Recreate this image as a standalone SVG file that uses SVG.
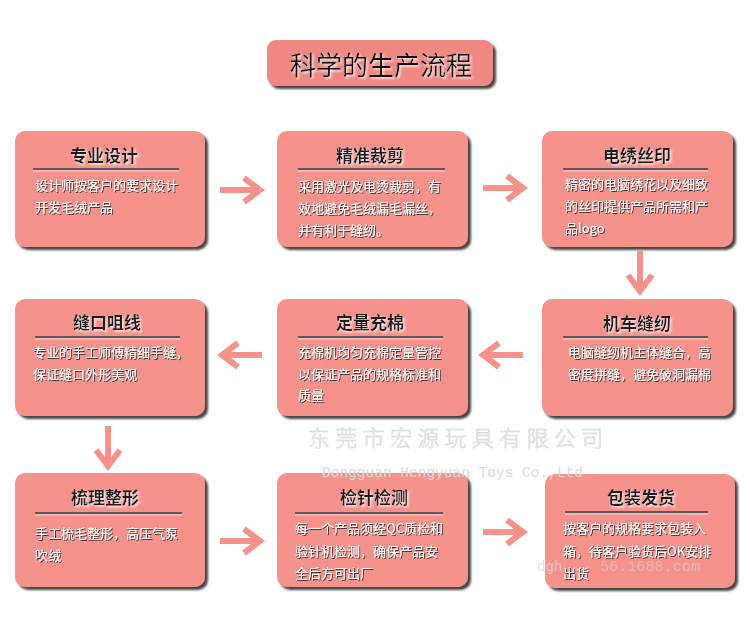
<svg xmlns="http://www.w3.org/2000/svg" width="750" height="628" viewBox="0 0 750 628">
<style>
.box{fill:#f4928b;}
.ttl{font-family:"Noto Sans CJK SC","Noto Sans",sans-serif;font-size:17px;font-weight:bold;fill:#1a1a1a;text-anchor:middle;filter:url(#glow);}
.body{font-family:"Noto Sans CJK SC","Noto Sans",sans-serif;font-size:13px;fill:#fff;filter:url(#dsh);}
.rule{stroke:#5a5a5a;stroke-width:2;}
.rule2{stroke:#fbd6d3;stroke-width:1;}
.arr{fill:none;stroke:#f4928b;stroke-width:6;}
.wm{font-family:"Noto Sans CJK SC",sans-serif;font-weight:300;fill:#f3f3f3;stroke:#d2d2d2;stroke-width:0.5;}
.wme{font-family:"Liberation Mono",monospace;fill:#dadada;}
</style>
<defs>
<filter id="bs" x="-10%" y="-10%" width="125%" height="130%">
<feDropShadow dx="3" dy="3" stdDeviation="1.3" flood-color="#333" flood-opacity="0.9"/>
</filter>
<filter id="glow" x="-10%" y="-20%" width="130%" height="150%">
<feDropShadow dx="1.5" dy="1.5" stdDeviation="0.8" flood-color="#fff" flood-opacity="0.9"/>
</filter>
<filter id="dsh" x="-10%" y="-20%" width="130%" height="150%">
<feDropShadow dx="1" dy="1" stdDeviation="0.6" flood-color="#333" flood-opacity="0.9"/>
</filter>
<path id="ar" d="M-21,0 H17 M3,-12 L19,0 L3,12"/>
</defs>
<rect width="750" height="628" fill="#fff"/>

<g id="title">
<rect x="267" y="40" width="226" height="46" rx="9" fill="#f08883" filter="url(#bs)"/>
<text x="381" y="75" font-family="'Noto Sans CJK SC',sans-serif" font-size="26" fill="#111" text-anchor="middle" filter="url(#glow)">科学的生产流程</text>
</g>

<g id="n1">
<rect class="box" x="15" y="131" width="190" height="116" rx="10" filter="url(#bs)"/>
<text class="ttl" x="104" y="162">专业设计</text>
<line class="rule" x1="33" y1="169" x2="179" y2="169"/><line class="rule2" x1="33" y1="171" x2="179" y2="171"/>
<text class="body" x="35" y="190">设计师按客户的要求设计</text>
<text class="body" x="35" y="212">开发毛绒产品</text>
</g>

<g id="n2">
<rect class="box" x="277" y="131" width="191" height="116" rx="10" filter="url(#bs)"/>
<text class="ttl" x="370" y="162">精准裁剪</text>
<line class="rule" x1="298" y1="169" x2="445" y2="169"/><line class="rule2" x1="298" y1="171" x2="445" y2="171"/>
<text class="body" x="298" y="191">采用激光及电烫裁剪，有</text>
<text class="body" x="298" y="213">效地避免毛绒漏毛漏丝，</text>
<text class="body" x="298" y="235">并有利于缝纫。</text>
</g>

<g id="n3">
<rect class="box" x="542" y="131" width="191" height="116" rx="10" filter="url(#bs)"/>
<text class="ttl" x="637" y="162">电绣丝印</text>
<line class="rule" x1="563" y1="169" x2="708" y2="169"/><line class="rule2" x1="563" y1="171" x2="708" y2="171"/>
<text class="body" x="565" y="189">精密的电脑绣花以及细致</text>
<text class="body" x="565" y="211">的丝印提供产品所需和产</text>
<text class="body" x="565" y="233">品logo</text>
</g>

<g id="n4">
<rect class="box" x="542" y="299" width="191" height="117" rx="10" filter="url(#bs)"/>
<text class="ttl" x="637" y="330">机车缝纫</text>
<line class="rule" x1="563" y1="337" x2="708" y2="337"/><line class="rule2" x1="563" y1="339" x2="708" y2="339"/>
<text class="body" x="568" y="357">电脑缝纫机主体缝合，高</text>
<text class="body" x="568" y="379">密度拼缝，避免破洞漏棉</text>
</g>

<g id="n5">
<rect class="box" x="277" y="299" width="191" height="117" rx="10" filter="url(#bs)"/>
<text class="ttl" x="370" y="329">定量充棉</text>
<line class="rule" x1="298" y1="337" x2="443" y2="337"/><line class="rule2" x1="298" y1="339" x2="443" y2="339"/>
<text class="body" x="298" y="357">充棉机均匀充棉定量管控</text>
<text class="body" x="298" y="379">以保证产品的规格标准和</text>
<text class="body" x="298" y="400">质量</text>
</g>

<g id="n6">
<rect class="box" x="15" y="299" width="190" height="117" rx="10" filter="url(#bs)"/>
<text class="ttl" x="107" y="329">缝口咀线</text>
<line class="rule" x1="35" y1="337" x2="180" y2="337"/><line class="rule2" x1="35" y1="339" x2="180" y2="339"/>
<text class="body" x="33" y="357">专业的手工师傅精细手缝，</text>
<text class="body" x="33" y="379">保证缝口外形美观</text>
</g>

<g id="n7">
<rect class="box" x="15" y="473" width="190" height="114" rx="10" filter="url(#bs)"/>
<text class="ttl" x="105" y="504">梳理整形</text>
<line class="rule" x1="35" y1="513" x2="182" y2="513"/><line class="rule2" x1="35" y1="515" x2="182" y2="515"/>
<text class="body" x="35" y="538">手工梳毛整形，高压气泵</text>
<text class="body" x="35" y="560">吹绒</text>
</g>

<g id="n8">
<rect class="box" x="277" y="473" width="191" height="114" rx="10" filter="url(#bs)"/>
<text class="ttl" x="374" y="504">检针检测</text>
<line class="rule" x1="295" y1="513" x2="443" y2="513"/><line class="rule2" x1="295" y1="515" x2="443" y2="515"/>
<text class="body" x="295" y="533">每一个产品须经QC质检和</text>
<text class="body" x="295" y="556">验针机检测，确保产品安</text>
<text class="body" x="295" y="578">全后方可出厂</text>
</g>

<g id="n9">
<rect class="box" x="545" y="474" width="190" height="114" rx="10" filter="url(#bs)"/>
<text class="ttl" x="641" y="504">包装发货</text>
<line class="rule" x1="565" y1="512" x2="708" y2="512"/><line class="rule2" x1="565" y1="514" x2="708" y2="514"/>
<text class="body" x="563" y="533">按客户的规格要求包装入</text>
<text class="body" x="563" y="556">箱，待客户验货后OK安排</text>
<text class="body" x="563" y="578">出货</text>
</g>

<g id="connectors">
<use href="#ar" class="arr" transform="translate(241,190)"/>
<use href="#ar" class="arr" transform="translate(504,188)"/>
<use href="#ar" class="arr" transform="translate(640,272) rotate(90)"/>
<use href="#ar" class="arr" transform="translate(502,355) rotate(180)"/>
<use href="#ar" class="arr" transform="translate(241,355) rotate(180)"/>
<use href="#ar" class="arr" transform="translate(108,447) rotate(90)"/>
<use href="#ar" class="arr" transform="translate(241,541)"/>
<use href="#ar" class="arr" transform="translate(504,532)"/>
</g>

<g id="watermark">
<text class="wm" x="308" y="446" font-size="22" textLength="295" lengthAdjust="spacing">东莞市宏源玩具有限公司</text>
<text class="wme" x="322" y="477" font-size="14" textLength="261" lengthAdjust="spacingAndGlyphs">Dongguan Hengyuan Toys Co.,Ltd</text>
<text class="wme" x="537" y="571" font-size="14" opacity="0.8">dgh</text>
<text class="wme" x="600" y="571" font-size="14" opacity="0.5" textLength="100" lengthAdjust="spacingAndGlyphs">56.1688.com</text>
</g>
</svg>
